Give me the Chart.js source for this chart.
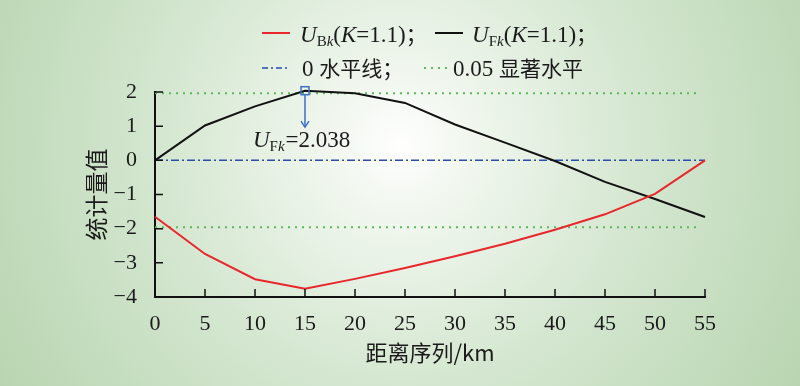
<!DOCTYPE html>
<html>
<head>
<meta charset="utf-8">
<script src="https://cdn.jsdelivr.net/npm/chart.js@4"></script>
<style>
  body { margin: 0; }
  #wrap { position: relative; width: 800px; height: 386px; }
  #legend .item { position: absolute; font-family: "Liberation Serif", "Noto Sans CJK SC", serif; font-size: 23px; color: #1a1a1a; line-height: 26px; white-space: nowrap; }
  #legend .cjk { font-family: "Noto Sans CJK SC", sans-serif; font-size: 21px; }
  #legend sub { font-size: 15px; vertical-align: -4px; line-height: 0; }
  #legend svg { position: absolute; }
</style>
</head>
<body>
<div id="wrap">
  <canvas id="chart" width="800" height="386"></canvas>
  <div id="legend">
    <svg style="left:262px;top:31px" width="28" height="4"><line x1="0" y1="2" x2="28" y2="2" stroke="#e8262b" stroke-width="2"/></svg>
    <div class="item" style="left:300px;top:20px"><i>U</i><sub>B<i>k</i></sub>(<i>K</i>=1.1)<span class="cjk">；</span></div>
    <svg style="left:435px;top:31px" width="28" height="4"><line x1="0" y1="2" x2="28" y2="2" stroke="#111" stroke-width="2"/></svg>
    <div class="item" style="left:472px;top:20px"><i>U</i><sub>F<i>k</i></sub>(<i>K</i>=1.1)<span class="cjk">；</span></div>
    <svg style="left:262px;top:66px" width="28" height="4"><line x1="0" y1="2" x2="28" y2="2" stroke="#2a4cae" stroke-width="1.5" stroke-dasharray="6 3 2 3"/></svg>
    <div class="item" style="left:302px;top:54px">0 <span class="cjk">水平线；</span></div>
    <svg style="left:424px;top:66px" width="24" height="4"><line x1="0" y1="2" x2="24" y2="2" stroke="#5cb85c" stroke-width="2" stroke-dasharray="2 5"/></svg>
    <div class="item" style="left:453px;top:54px">0.05 <span class="cjk">显著水平</span></div>
  </div>
</div>
<script>
// distance sequence (km)
const distances = [0, 5, 10, 15, 20, 25, 30, 35, 40, 45, 50, 55];
// UFk forward statistic
const ufk = [0, 1.02, 1.58, 2.038, 1.96, 1.68, 1.05, 0.52, -0.02, -0.63, -1.13, -1.66];
// UBk backward statistic
const ubk = [-1.65, -2.74, -3.48, -3.76, -3.47, -3.15, -2.81, -2.44, -2.03, -1.58, -0.98, 0];
// reference lines
const zeroX = [0, 55];
const sigX = [0, 54.5];
const sigLevel = 1.96;
const peak = { x: 15, y: 2.038, arrowTo: 1.0 };

const serif = "'Liberation Serif', serif";
const cjk = "'Noto Sans CJK SC', sans-serif";

function pts(xs, ys) {
  return xs.map((x, i) => ({ x: x, y: ys[i] }));
}

const bgPlugin = {
  id: "bg",
  beforeDraw(chart) {
    const ctx = chart.ctx;
    const g = ctx.createRadialGradient(400, 145, 0, 400, 145, 470);
    g.addColorStop(0, "#ffffff");
    g.addColorStop(0.1, "#f5f9f3");
    g.addColorStop(0.5, "#d5e7d1");
    g.addColorStop(1, "#b8d5b0");
    ctx.save();
    ctx.fillStyle = g;
    ctx.fillRect(0, 0, chart.width, chart.height);
    ctx.restore();
  }
};

const ticksPlugin = {
  id: "innerTicks",
  afterDraw(chart) {
    const ctx = chart.ctx;
    const xs = chart.scales.x, ys = chart.scales.y;
    const a = chart.chartArea;
    ctx.save();
    ctx.strokeStyle = "#111";
    ctx.lineWidth = 1.5;
    ctx.beginPath();
    xs.ticks.forEach((t) => {
      const px = xs.getPixelForValue(t.value);
      ctx.moveTo(px, a.bottom);
      ctx.lineTo(px, a.bottom - 8);
    });
    ys.ticks.forEach((t) => {
      const py = ys.getPixelForValue(t.value);
      ctx.moveTo(a.left, py);
      ctx.lineTo(a.left + 8, py);
    });
    ctx.stroke();

    // peak annotation
    const px = xs.getPixelForValue(peak.x);
    const py = ys.getPixelForValue(peak.y);
    const ay = ys.getPixelForValue(peak.arrowTo);
    ctx.strokeStyle = "#3d6fc4";
    ctx.lineWidth = 1.5;
    ctx.strokeRect(px - 4, py - 4, 8, 8);
    ctx.beginPath();
    ctx.moveTo(px, py + 4);
    ctx.lineTo(px, ay);
    ctx.stroke();
    ctx.beginPath();
    ctx.moveTo(px - 4, ay - 5);
    ctx.lineTo(px, ay + 1);
    ctx.lineTo(px + 4, ay - 5);
    ctx.stroke();

    let tx = px - 52;
    const by = py + 56;
    ctx.fillStyle = "#1a1a1a";
    ctx.textBaseline = "alphabetic";
    ctx.font = "italic 23px " + serif;
    ctx.fillText("U", tx, by);
    tx += ctx.measureText("U").width;
    ctx.font = "15px " + serif;
    ctx.fillText("F", tx, by + 4);
    tx += ctx.measureText("F").width;
    ctx.font = "italic 15px " + serif;
    ctx.fillText("k", tx, by + 4);
    tx += ctx.measureText("k").width + 1;
    ctx.font = "23px " + serif;
    ctx.fillText("=2.038", tx, by);
    ctx.restore();
  }
};

new Chart(document.getElementById("chart"), {
  type: "line",
  data: {
    datasets: [
      { data: pts(distances, ubk), borderColor: "#e8262b", borderWidth: 2 },
      { data: pts(distances, ufk), borderColor: "#111111", borderWidth: 2 },
      { data: pts(zeroX, [0, 0]), borderColor: "#2a4cae", borderWidth: 1.5, borderDash: [8, 3, 2, 3] },
      { data: pts(sigX, [sigLevel, sigLevel]), borderColor: "#5cb85c", borderWidth: 2, borderDash: [2, 5] },
      { data: pts(sigX, [-sigLevel, -sigLevel]), borderColor: "#5cb85c", borderWidth: 2, borderDash: [2, 5] }
    ]
  },
  options: {
    responsive: false,
    animation: false,
    clip: false,
    elements: { point: { radius: 0 }, line: { tension: 0 } },
    layout: { padding: { left: 78, right: 95, top: 92, bottom: 18 } },
    plugins: { legend: { display: false }, tooltip: { enabled: false } },
    scales: {
      x: {
        type: "linear",
        min: 0,
        max: 55,
        afterFit: (s) => { s.height = 71; },
        grid: { display: false },
        border: { display: true, color: "#111", width: 2 },
        ticks: { stepSize: 5, padding: 6, color: "#1a1a1a", font: { family: serif, size: 22 } },
        title: { display: true, text: "距离序列/km", color: "#1a1a1a", font: { family: cjk, size: 22 }, padding: 2 }
      },
      y: {
        min: -4,
        max: 2,
        afterFit: (s) => { s.width = 77; },
        grid: { display: false },
        border: { display: true, color: "#111", width: 2 },
        ticks: {
          stepSize: 1,
          padding: 10,
          color: "#1a1a1a",
          font: { family: serif, size: 22 },
          callback: (v) => (v < 0 ? "\u2212" + Math.abs(v) : String(v))
        },
        title: { display: true, text: "统计量值", color: "#1a1a1a", font: { family: cjk, size: 23 }, padding: 4 }
      }
    }
  },
  plugins: [bgPlugin, ticksPlugin]
});
</script>
</body>
</html>
